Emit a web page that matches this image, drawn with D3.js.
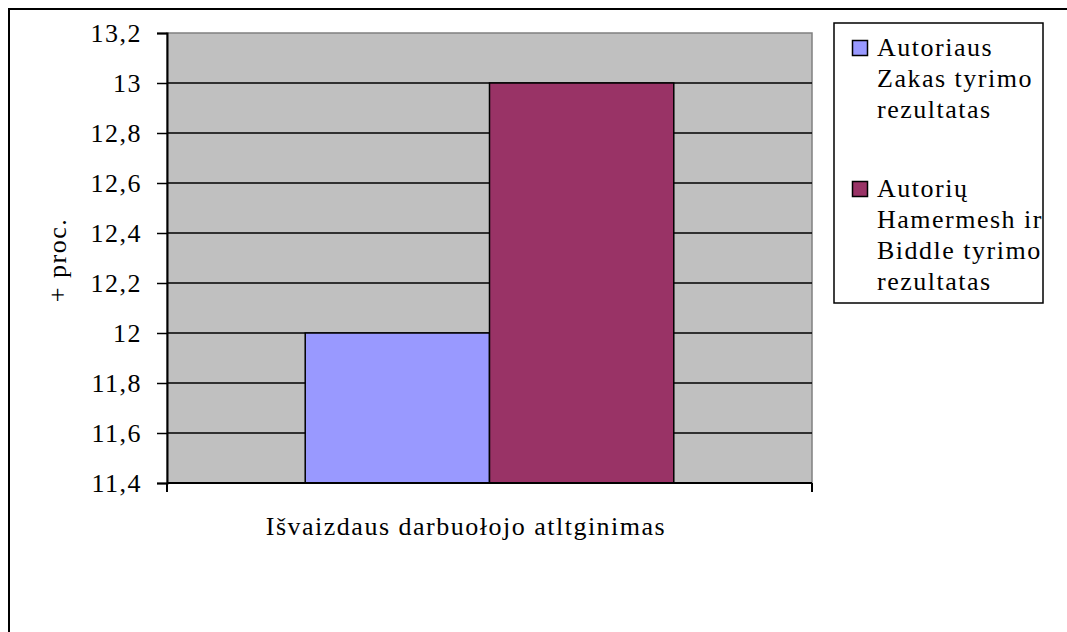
<!DOCTYPE html>
<html><head><meta charset="utf-8">
<script src="https://cdn.jsdelivr.net/npm/d3@7"></script>
<style>body{margin:0;background:#fff}svg text{font-family:"Liberation Serif","Times New Roman",serif;fill:#000}</style>
</head><body>
<svg id="c" width="1067" height="632"></svg>
<script>
const categories = ["Išvaizdaus darbuołojo atltginimas"];
const seriesNames = [["Autoriaus", "Zakas tyrimo", "rezultatas"], ["Autorių", "Hamermesh ir", "Biddle tyrimo", "rezultatas"]];
const seriesValues = [12, 13];
const seriesColors = ["#9999FF", "#993366"];
const yTicks = [11.4, 11.6, 11.8, 12, 12.2, 12.4, 12.6, 12.8, 13, 13.2];
const yLabel = "+ proc.";

const svg = d3.select("#c");
const fs = 26, ls = "1.5px";
// outer border
svg.append("rect").attr("x", 9).attr("y", 9).attr("width", 1070).attr("height", 640)
  .attr("fill", "none").attr("stroke", "#000").attr("stroke-width", 2);

const L = 167, R = 812, T = 33, B = 483;
const y = d3.scaleLinear().domain([11.4, 13.2]).range([B, T]);
const x0 = d3.scaleBand().domain(categories).range([L, R]);
// plot background
svg.append("rect").attr("x", L).attr("y", T).attr("width", R - L).attr("height", B - T)
  .attr("fill", "#C0C0C0").attr("stroke", "#808080").attr("stroke-width", 1.5);
// gridlines
svg.append("g").selectAll("line").data(yTicks.slice(1, -1)).join("line")
  .attr("x1", L).attr("x2", R).attr("y1", d => y(d)).attr("y2", d => y(d))
  .attr("stroke", "#000").attr("stroke-width", 1.5);

// bars
const bw = x0.bandwidth() / 3.5;
const cx = x0(categories[0]) + x0.bandwidth() / 2;
const x1 = d3.scaleBand().domain(d3.range(seriesValues.length)).range([cx - bw, cx + bw]);
svg.append("g").selectAll("rect").data(seriesValues).join("rect")
  .attr("x", (d, i) => x1(i)).attr("width", x1.bandwidth())
  .attr("y", d => y(d)).attr("height", d => B - y(d))
  .attr("fill", (d, i) => seriesColors[i]).attr("stroke", "#000").attr("stroke-width", 1.5);

// y axis
const ya = d3.axisLeft(y).tickValues(yTicks).tickSize(10).tickPadding(15)
  .tickFormat(d => d3.format(".1~f")(d).replace(".", ","));
const gy = svg.append("g").attr("transform", `translate(${L},0)`).call(ya);
gy.select(".domain").attr("stroke", "#000").attr("stroke-width", 2);
gy.selectAll(".tick line").attr("stroke", "#000").attr("stroke-width", 1.5);
gy.selectAll(".tick text").attr("font-size", fs).style("letter-spacing", ls)
  .attr("font-family", "Liberation Serif").attr("dy", "0.34em");

// x axis
const xa = d3.axisBottom(x0).tickValues([]).tickSizeOuter(0);
const gx = svg.append("g").attr("transform", `translate(0,${B})`);
gx.append("line").attr("x1", L).attr("x2", R).attr("stroke", "#000").attr("stroke-width", 2);
gx.selectAll(".edge").data([L, R]).join("line").attr("x1", d => d).attr("x2", d => d)
  .attr("y1", 0).attr("y2", 9).attr("stroke", "#000").attr("stroke-width", 2);
svg.append("text").attr("x", 466).attr("y", 535).attr("text-anchor", "middle")
  .attr("font-size", fs).style("letter-spacing", ls).text(categories[0]);

// y label
svg.append("text").attr("transform", "translate(66,260) rotate(-90)").attr("text-anchor", "middle")
  .attr("font-size", fs).style("letter-spacing", ls).text(yLabel);

// legend
const lg = svg.append("g");
lg.append("rect").attr("x", 834).attr("y", 23).attr("width", 209).attr("height", 280)
  .attr("fill", "#fff").attr("stroke", "#000").attr("stroke-width", 1.5);
const starts = [56, 197];
seriesNames.forEach((lines, i) => {
  lg.append("rect").attr("x", 852.5).attr("y", starts[i] - 15.5).attr("width", 15).attr("height", 15)
    .attr("fill", seriesColors[i]).attr("stroke", "#000").attr("stroke-width", 1.5);
  lines.forEach((t, j) => {
    lg.append("text").attr("x", 877).attr("y", starts[i] + j * 31)
      .attr("font-size", fs).style("letter-spacing", ls).text(t);
  });
});
</script>
</body></html>
